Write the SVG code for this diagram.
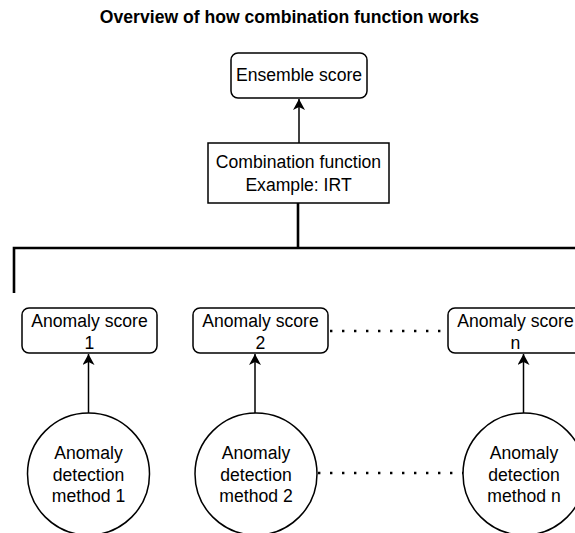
<svg xmlns="http://www.w3.org/2000/svg" width="575" height="533" viewBox="0 0 575 533">
<defs>
<style>
text{font-family:"Liberation Sans",Arial,Helvetica,sans-serif;font-size:17.6px;fill:#000;text-anchor:middle}
.title{font-weight:bold}
.box{fill:#fff;stroke:#000;stroke-width:1.5}
.edge{fill:none;stroke:#000;stroke-width:1.5}
.bus{fill:none;stroke:#000;stroke-width:2.6;stroke-linejoin:miter}
.dot{fill:none;stroke:#000;stroke-width:2.4;stroke-dasharray:2.4 9.6}
</style>
<marker id="arr" viewBox="0 0 12 12" refX="11" refY="6" markerWidth="12" markerHeight="12" markerUnits="userSpaceOnUse" orient="auto">
<path d="M0,0 L11,6 L0,12 L3,6 Z" fill="#000"/>
</marker>
</defs>
<rect width="575" height="533" fill="#fff"/>
<text class="title" x="289.5" y="22.5">Overview of how combination function works</text>

<g id="connectors">
<line class="edge" x1="299" y1="143" x2="299" y2="99" marker-end="url(#arr)"/>
<polyline class="bus" points="298,203 298,248"/>
<polyline class="bus" points="14,293 14,248 576,248"/>
<line class="edge" x1="88.5" y1="413" x2="88.5" y2="354" marker-end="url(#arr)"/>
<line class="edge" x1="255" y1="413" x2="255" y2="354" marker-end="url(#arr)"/>
<line class="edge" x1="523.5" y1="413" x2="523.5" y2="354" marker-end="url(#arr)"/>
<line class="dot" x1="330" y1="331" x2="448" y2="331"/>
<line class="dot" x1="318" y1="473" x2="463" y2="473"/>
</g>

<g id="ensemble">
<rect class="box" x="231" y="53" width="136" height="45" rx="7"/>
<text x="299" y="81">Ensemble score</text>
</g>
<g id="combination">
<rect class="box" x="208" y="143" width="181" height="60"/>
<text x="298.5" y="167.5">Combination function</text>
<text x="298.5" y="190.5">Example: IRT</text>
</g>

<g id="score1">
<rect class="box" x="22" y="308" width="135" height="45" rx="7"/>
<text x="89.5" y="326.5">Anomaly score</text>
<text x="89.5" y="349">1</text>
</g>
<g id="score2">
<rect class="box" x="193" y="308" width="135" height="45" rx="7"/>
<text x="260.5" y="326.5">Anomaly score</text>
<text x="260.5" y="349">2</text>
</g>
<g id="scoren">
<rect class="box" x="448" y="308" width="135" height="45" rx="7"/>
<text x="515.5" y="326.5">Anomaly score</text>
<text x="515.5" y="349">n</text>
</g>

<g id="method1">
<circle class="box" cx="88.5" cy="474" r="61"/>
<text x="88.5" y="459">Anomaly</text>
<text x="88.5" y="480.5">detection</text>
<text x="88.5" y="502">method 1</text>
</g>
<g id="method2">
<circle class="box" cx="256" cy="474" r="61"/>
<text x="256" y="459">Anomaly</text>
<text x="256" y="480.5">detection</text>
<text x="256" y="502">method 2</text>
</g>
<g id="methodn">
<circle class="box" cx="524" cy="474" r="61"/>
<text x="524" y="459">Anomaly</text>
<text x="524" y="480.5">detection</text>
<text x="524" y="502">method n</text>
</g>
</svg>
